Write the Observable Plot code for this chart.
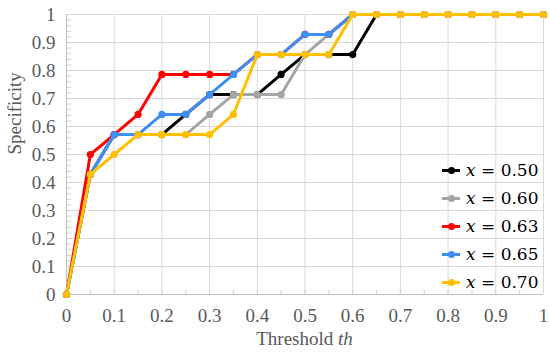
<!DOCTYPE html>
<html>
<head>
<meta charset="utf-8">
<script src="https://cdn.jsdelivr.net/npm/d3@7"></script>
<script src="https://cdn.jsdelivr.net/npm/@observablehq/plot@0.6"></script>
<style>
  html, body { margin: 0; padding: 0; background: #fff; }
  #wrap { position: relative; width: 550px; height: 356px; }
  #wrap svg, #wrap svg text { font-family: "Liberation Serif", serif !important; }
  #legend { position: absolute; left: 440px; top: 156px; font-family: "DejaVu Serif", serif; font-size: 17px; color: #000; }
  .row { display: flex; align-items: center; height: 28px; }
  .sym { position: relative; width: 22px; height: 28px; margin-right: 4px; }
  .sym .ln { position: absolute; left: 2px; top: 12.5px; width: 18px; height: 3px; }
  .sym .dt { position: absolute; left: 7.5px; top: 10.5px; width: 7px; height: 7px; border-radius: 50%; }
  #xtitle { position: absolute; left: 0; width: 609px; top: 328px; text-align: center; font-family: "Liberation Serif", serif; font-size: 19px; color: #595959; }
</style>
</head>
<body>
<div id="wrap"></div>
<script>
const thresholds = [0,0.05,0.1,0.15,0.2,0.25,0.3,0.35,0.4,0.45,0.5,0.55,0.6,0.65,0.7,0.75,0.8,0.85,0.9,0.95,1];
const seriesNames = ["x = 0.50","x = 0.60","x = 0.63","x = 0.65","x = 0.70"];
const seriesColors = ["#000000","#a5a5a5","#ff0000","#3f8ef2","#ffc000"];
const spec050 = [0,0.429,0.571,0.571,0.571,0.643,0.714,0.714,0.714,0.786,0.857,0.857,0.857,1,1,1,1,1,1,1,1];
const spec060 = [0,0.429,0.571,0.571,0.571,0.571,0.643,0.714,0.714,0.714,0.857,0.929,1,1,1,1,1,1,1,1,1];
const spec063 = [0,0.5,0.571,0.643,0.786,0.786,0.786,0.786,0.857,0.857,0.929,0.929,1,1,1,1,1,1,1,1,1];
const spec065 = [0,0.429,0.571,0.571,0.643,0.643,0.714,0.786,0.857,0.857,0.929,0.929,1,1,1,1,1,1,1,1,1];
const spec070 = [0,0.429,0.5,0.571,0.571,0.571,0.571,0.643,0.857,0.857,0.857,0.857,1,1,1,1,1,1,1,1,1];
const xTicks = [0,0.1,0.2,0.3,0.4,0.5,0.6,0.7,0.8,0.9,1];
const yTicks = [0,0.1,0.2,0.3,0.4,0.5,0.6,0.7,0.8,0.9,1];
const xMinor = [0.05,0.1,0.15,0.2,0.25,0.3,0.35,0.4,0.45,0.5,0.55,0.6,0.65,0.7,0.75,0.8,0.85,0.9,0.95];
const yMinor = d3.range(1, 50).map(i => i / 50);

const allSpecs = [spec050, spec060, spec063, spec065, spec070];
const seriesData = allSpecs.map((arr, k) => arr.map((v, i) => ({series: seriesNames[k], th: thresholds[i], spec: v})));

const fmt = d => (d === 0 ? "0" : d === 1 ? "1" : d.toFixed(1));

const marks = [
  Plot.gridY(yTicks, {stroke: "#d9d9d9", strokeOpacity: 1}),
  Plot.gridX(xTicks, {stroke: "#d9d9d9", strokeOpacity: 1}),
  Plot.ruleY(yMinor, {x1: 0, x2: 0.011, stroke: "#d0d0d0"}),
  Plot.ruleX(xMinor, {y1: 0, y2: 0.015, stroke: "#d0d0d0"}),
  Plot.ruleX([0], {stroke: "#bfbfbf"}),
  Plot.ruleY([0], {stroke: "#bfbfbf"}),
  Plot.axisY(yTicks, {tickSize: 0, tickPadding: 11, tickFormat: fmt, label: null, fontSize: 19}),
  Plot.axisX(xTicks, {tickSize: 0, tickPadding: 14, tickFormat: fmt, label: null, fontSize: 19}),
  Plot.text(["Specificity"], {frameAnchor: "left", dx: -52, rotate: -90, fontSize: 19, fill: "#595959"})
];
seriesData.forEach(sd => {
  marks.push(Plot.line(sd, {x: "th", y: "spec", stroke: "series", strokeWidth: 3}));
  marks.push(Plot.dot(sd, {x: "th", y: "spec", fill: "series", r: 3.6}));
});

const chart = Plot.plot({
  width: 550,
  height: 356,
  marginLeft: 66,
  marginRight: 7,
  marginTop: 14,
  marginBottom: 62,
  x: {domain: [0, 1]},
  y: {domain: [0, 1]},
  color: {domain: seriesNames, range: seriesColors},
  style: {fontFamily: "'Liberation Serif', serif", fontSize: "19px", color: "#595959", background: "#fff"},
  marks
});
const wrap = document.getElementById("wrap");
wrap.appendChild(chart);

const xt = document.createElement("div");
xt.id = "xtitle";
xt.innerHTML = "Threshold <i>th</i>";
wrap.appendChild(xt);

const leg = d3.select(wrap).append("div").attr("id", "legend");
seriesNames.forEach((name, k) => {
  const row = leg.append("div").attr("class", "row");
  const sym = row.append("div").attr("class", "sym");
  sym.append("div").attr("class", "ln").style("background", seriesColors[k]);
  sym.append("div").attr("class", "dt").style("background", seriesColors[k]);
  const t = row.append("span");
  t.append("i").text("x");
  t.append("span").html("&nbsp;=&nbsp;" + name.split("= ")[1]);
});
</script>
</body>
</html>
